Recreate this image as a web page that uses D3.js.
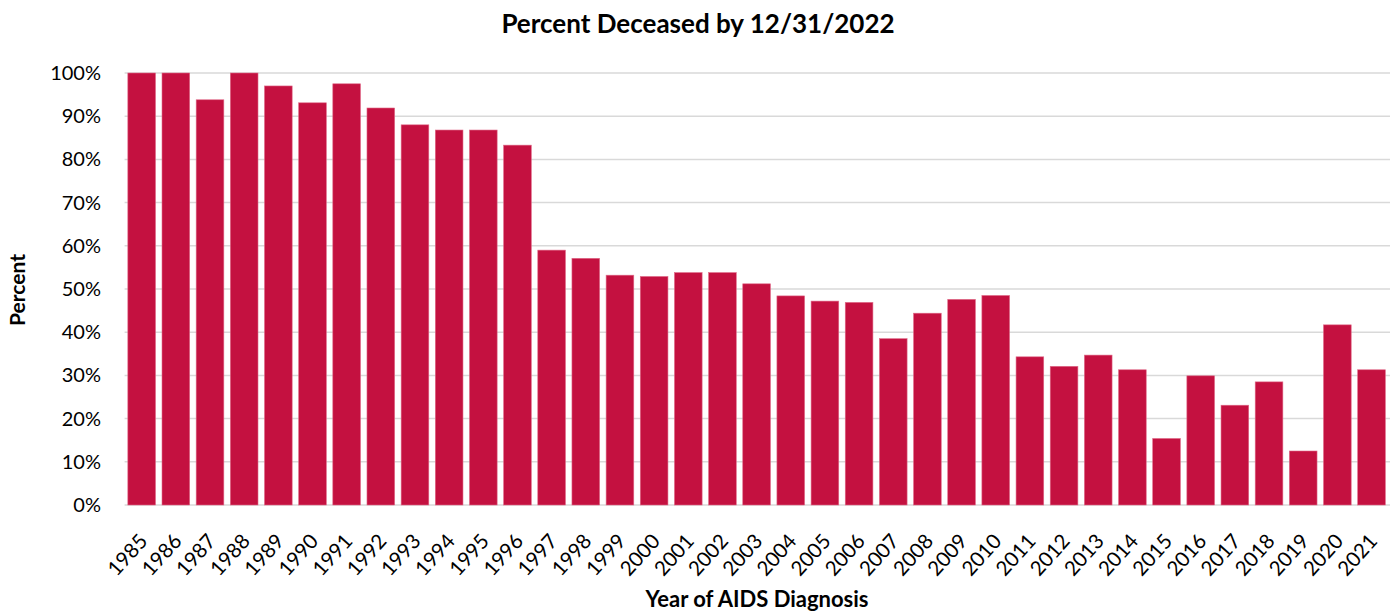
<!DOCTYPE html>
<html>
<head>
<meta charset="utf-8">
<script src="https://cdn.jsdelivr.net/npm/d3@7"></script>
<style>
  html, body { margin: 0; padding: 0; background: #fff; }
  svg { display: block; font-family: Lato, "Open Sans", sans-serif; }
</style>
</head>
<body>
<svg id="chart" width="1398" height="614"></svg>
<script>
const years = ["1985","1986","1987","1988","1989","1990","1991","1992","1993","1994","1995","1996",
  "1997","1998","1999","2000","2001","2002","2003","2004","2005","2006","2007","2008","2009","2010",
  "2011","2012","2013","2014","2015","2016","2017","2018","2019","2020","2021"];
const percentDeceased = [100, 100, 93.8, 100, 97.0, 93.1, 97.5, 91.9, 88.0, 86.8, 86.8, 83.3,
  59.0, 57.1, 53.2, 52.9, 53.8, 53.8, 51.2, 48.4, 47.2, 46.9, 38.5, 44.4, 47.6, 48.5,
  34.3, 32.1, 34.7, 31.3, 15.4, 29.9, 23.1, 28.5, 12.5, 41.7, 31.3];
const yTicks = [0, 10, 20, 30, 40, 50, 60, 70, 80, 90, 100];
const titleText = "Percent Deceased by 12/31/2022";
const xTitle = "Year of AIDS Diagnosis";
const yTitle = "Percent";

const svg = d3.select("#chart");
const pLeft = 124.6, pRight = 1388.6, pTop = 73, pBottom = 505;

const x = d3.scaleBand().domain(years).range([pLeft, pRight]).paddingInner(0.19).paddingOuter(0.095);
const y = d3.scaleLinear().domain([0, 100]).range([pBottom, pTop]);

// gridlines
svg.append("g").selectAll("line").data(yTicks).join("line")
  .attr("x1", pLeft).attr("x2", 1390)
  .attr("y1", d => y(d)).attr("y2", d => y(d))
  .attr("stroke", "#d9d9d9").attr("stroke-width", 1.5);

// bars
svg.append("g").selectAll("rect").data(years).join("rect")
  .attr("x", d => x(d))
  .attr("width", x.bandwidth())
  .attr("y", (d, i) => y(percentDeceased[i]))
  .attr("height", (d, i) => y(0) - y(percentDeceased[i]))
  .attr("fill", "#c41140")
  .attr("stroke", "#e06a88").attr("stroke-width", 0.6);

// y axis
const yAxis = d3.axisLeft(y).tickValues(yTicks).tickFormat(d => d + "%").tickSize(0).tickPadding(0);
const yg = svg.append("g").attr("transform", `translate(101,0)`).call(yAxis);
yg.select(".domain").remove();
yg.selectAll("text").attr("font-size", 20).attr("fill", "#000").attr("font-family", "Lato, sans-serif");

// x axis
const xAxis = d3.axisBottom(x).tickSize(0).tickPadding(0);
const xg = svg.append("g").attr("transform", `translate(0,${pBottom})`).call(xAxis);
xg.select(".domain").remove();
xg.selectAll("text")
  .attr("font-size", 20.5).attr("fill", "#000").attr("font-family", "Lato, sans-serif")
  .attr("text-anchor", "end")
  .attr("dy", null).attr("y", null)
  .attr("transform", "translate(7,37) rotate(-48)");

// titles
svg.append("text").attr("x", 698).attr("y", 33).attr("text-anchor", "middle")
  .attr("font-size", 26).attr("font-weight", "bold").text(titleText);
svg.append("text").attr("x", 757).attr("y", 607).attr("text-anchor", "middle")
  .attr("font-size", 22).attr("font-weight", "bold").text(xTitle);
svg.append("text").attr("transform", "translate(25,290) rotate(-90)").attr("text-anchor", "middle")
  .attr("font-size", 21).attr("font-weight", "bold").text(yTitle);
</script>
</body>
</html>
